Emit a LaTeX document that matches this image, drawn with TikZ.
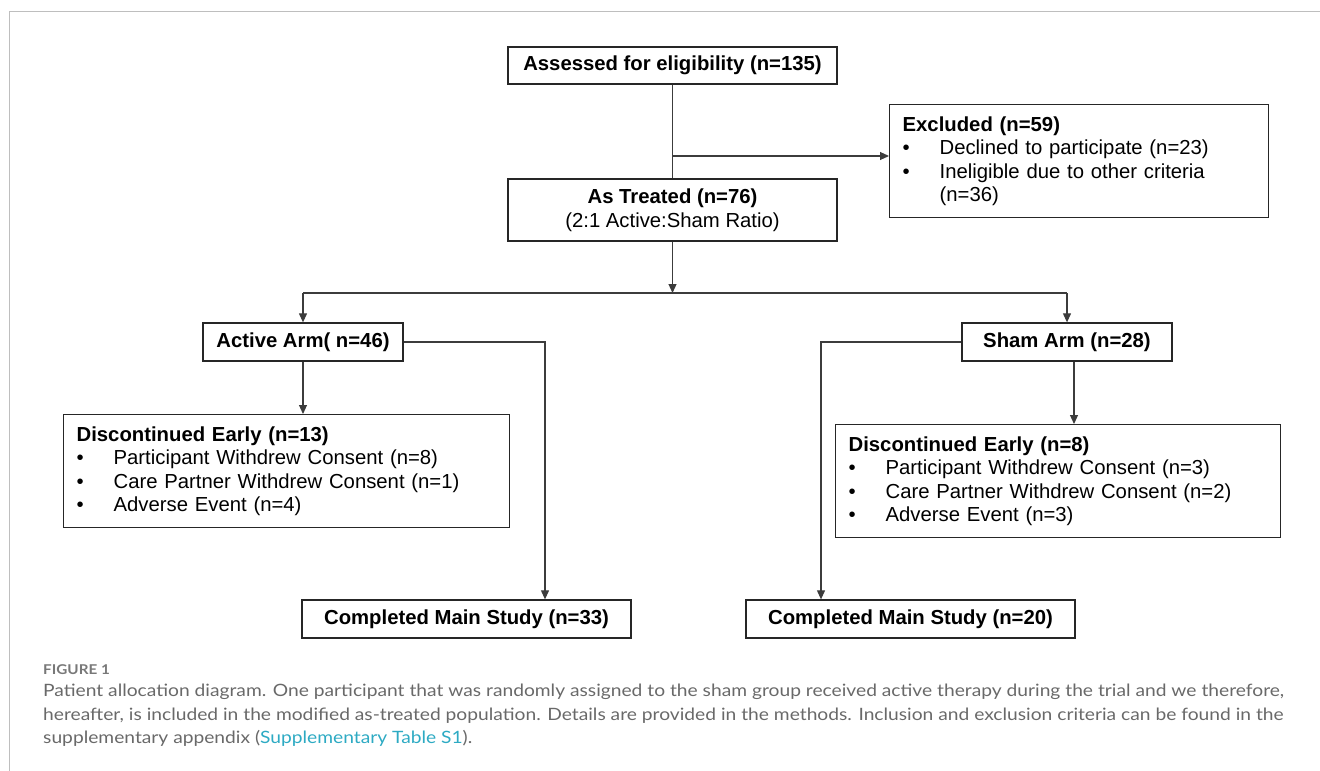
\documentclass[tikz,border=0pt]{standalone}
\usepackage{fontspec}
\setmainfont{Liberation Sans}
\newfontfamily\capfont[FakeStretch=1.13]{Lato}
\usepackage{tikz}
\usetikzlibrary{arrows.meta,positioning,calc}
\usepackage{xcolor}

\definecolor{linegray}{RGB}{60,60,60}
\definecolor{framegray}{RGB}{190,190,190}
\definecolor{captext}{RGB}{105,105,105}
\definecolor{caplink}{RGB}{45,170,195}

% one bullet line inside a list box
\newcommand{\itm}[1]{\makebox[37pt][l]{\textbullet}#1}

\tikzset{
	box/.style={draw=black!85, line width=1.3pt, fill=white, inner xsep=13pt, inner ysep=0pt,
		minimum height=38pt, font=\fontsize{20.3}{23.5}\selectfont},
	listbox/.style={box, align=left, anchor=north west},
	flow/.style={draw=linegray, line width=1.1pt},
	arr/.style={flow, -{Triangle[length=9pt,width=8pt]}},
}

\begin{document}
\begin{tikzpicture}[x=1pt, y=-1pt]

	\useasboundingbox (0,0) rectangle (1320,771);

	% frame of the figure panel
	\draw[framegray, line width=1pt] (9,771) -- (9,11) -- (1320,11);

	% Enrolment
	\node[box, minimum width=329pt, minimum height=37pt] (assess) at (672.5,65.5)
		{\textbf{Assessed for eligibility (n=135)}};
	\node[box, minimum width=329pt, minimum height=62pt, align=center] (treated) at (672.5,210)
		{\textbf{As Treated (n=76)}\\(2:1 Active:Sham Ratio)};
	\node[listbox, text width=353pt, minimum height=113pt] (excl) at (889,104)
		{\textbf{Excluded (n=59)}\\
		 \itm{Declined to participate (n=23)}\\
		 \itm{Ineligible due to other criteria}\\
		 \hspace*{37pt}(n=36)};

	% Allocation
	\node[box, minimum width=200pt] (active) at (303,342) {\textbf{Active Arm( n=46)}};
	\node[box, minimum width=210pt] (sham) at (1067,342) {\textbf{Sham Arm (n=28)}};

	% Follow-up
	\node[listbox, text width=420pt, minimum height=113pt] (discA) at (63,414)
		{\textbf{Discontinued Early (n=13)}\\
		 \itm{Participant Withdrew Consent (n=8)}\\
		 \itm{Care Partner Withdrew Consent (n=1)}\\
		 \itm{Adverse Event (n=4)}};
	\node[listbox, text width=419pt, minimum height=113pt] (discS) at (835,424)
		{\textbf{Discontinued Early (n=8)}\\
		 \itm{Participant Withdrew Consent (n=3)}\\
		 \itm{Care Partner Withdrew Consent (n=2)}\\
		 \itm{Adverse Event (n=3)}};

	% Analysis
	\node[box, minimum width=329pt] (compA) at (466.5,619) {\textbf{Completed Main Study (n=33)}};
	\node[box, minimum width=329pt] (compS) at (910.5,619) {\textbf{Completed Main Study (n=20)}};

	% connectors
	\coordinate (exsplit) at (672.5,156);
	\coordinate (split) at (672.5,293);
	\coordinate (aturn) at (545,342);
	\coordinate (sturn) at (821,342);
	\coordinate (shamdrop) at ([xshift=7pt]sham.south);

	\draw[flow] (assess.south) -- (treated.north);
	\draw[arr] (exsplit) -- (exsplit -| excl.west);
	\draw[arr] (treated.south) -- (split);
	\draw[flow] (active.north |- split) -- (sham.north |- split);
	\foreach \arm in {active,sham}
		\draw[arr] (\arm.north |- split) -- (\arm.north);
	\draw[arr] (active.south) -- (active.south |- discA.north);
	\draw[arr] (shamdrop) -- (shamdrop |- discS.north);
	\draw[arr] (active.east) -- (aturn) -- (aturn |- compA.north);
	\draw[arr] (sham.west) -- (sturn) -- (sturn |- compS.north);

	% caption
	\node[anchor=base west, inner sep=0pt, text=captext!90, font=\capfont\bfseries\fontsize{13.5}{16}\selectfont]
		(figlbl) at (43,674) {FIGURE 1};
	\node[anchor=north west, inner sep=0pt, align=left, text=captext,
		font=\capfont\fontsize{17}{23.5}\selectfont] (caption) at (43,684)
		{Patient allocation diagram. One participant that was randomly assigned to the sham group received active therapy during the trial and we therefore,\\
		 hereafter, is included in the modified as-treated population. Details are provided in the methods. Inclusion and exclusion criteria can be found in the\\
		 supplementary appendix ({\color{caplink}Supplementary Table S1}).};

\end{tikzpicture}
\end{document}
